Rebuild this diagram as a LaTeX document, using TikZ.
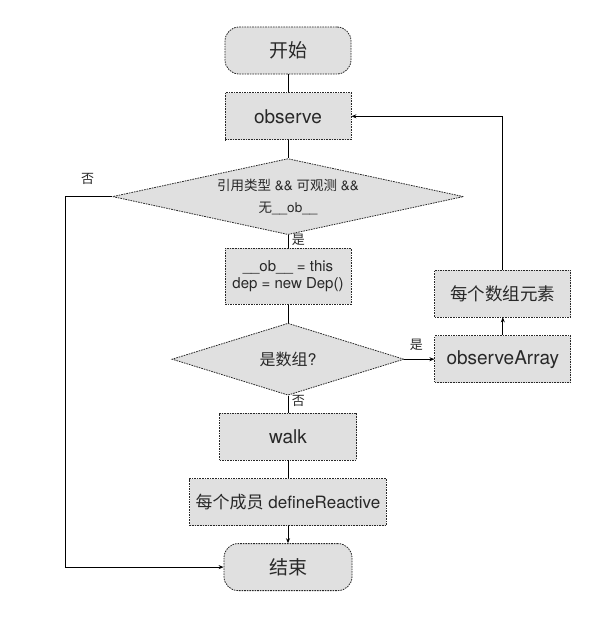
\documentclass[tikz,border=0pt]{standalone}
\usepackage{fontspec}
\setmainfont{TeX Gyre Heros}
\newfontfamily\cjk{Noto Sans CJK SC}
\usetikzlibrary{positioning,shapes.geometric,arrows.meta}
\definecolor{tausta}{RGB}{224,224,224}
\definecolor{reuna}{RGB}{40,40,40}
\definecolor{teksti}{RGB}{40,40,40}

\begin{document}
\begin{tikzpicture} [x=1pt, y=-1pt, node distance=18pt, >={Stealth[length=5pt,width=4pt]},
                    line width=0.9pt,
                    prosessi/.style={rectangle,draw=reuna,fill=tausta,line width=0.8pt,
                      dash pattern=on 1.6pt off 1pt,minimum width=126pt,minimum height=47pt,
                      inner sep=6pt,text=teksti,font=\fontsize{19}{22}\selectfont},
                    paate/.style={prosessi,rounded corners=14pt},
                    paatos/.style={diamond,draw=reuna,fill=tausta,line width=0.8pt,
                      dash pattern=on 1.6pt off 1pt,inner sep=1pt,text=teksti,align=center},
                    merkki/.style={text=teksti,font=\cjk\fontsize{13}{15}\selectfont}]

\useasboundingbox (0,0) rectangle (606,618);

\node[paate] (alku) at (288,50.5) {\cjk 开始};
\node[prosessi] (havainto) [below=of alku] {observe};
\node[paatos, minimum width=351pt, minimum height=76pt, aspect=4.6,
      font=\fontsize{13.5}{22}\selectfont] (ehto1) [below=of havainto]
      {{\cjk 引用类型} \&\& {\cjk 可观测} \&\&\\{\cjk 无}\_\_ob\_\_};
\node[prosessi, minimum height=56pt, align=center, font=\fontsize{15}{17}\selectfont]
      (alusta) [below=13pt of ehto1] {\_\_ob\_\_ = this\\dep = new Dep()};
\node[paatos, minimum width=232pt, minimum height=72pt, aspect=3.2,
      font=\fontsize{16}{19}\selectfont] (ehto2) [below=of alusta] {{\cjk 是数组}?};
\node[prosessi, minimum width=136pt] (taulukko) [right=30pt of ehto2] {observeArray};
\node[prosessi, minimum width=136pt, font=\cjk\fontsize{17.5}{21}\selectfont]
      (alkiot) [above=of taulukko] {每个数组元素};
\node[prosessi, minimum width=137pt] (kulku) [below=17pt of ehto2] {walk};
\node[prosessi, font=\fontsize{17}{20}\selectfont] (jasenet) [below=of kulku]
      {{\cjk 每个成员} defineReactive};
\node[paate, minimum width=128pt] (loppu) [below=17pt of jasenet] {\cjk 结束};
\coordinate (ohitus) at (65,0);

\draw (alku) -- (havainto);
\draw (havainto) -- (ehto1);
\draw (ehto1) -- node[merkki, right, pos=0.35] {是} (alusta);
\draw (alusta) -- (ehto2);
\draw[->] (ehto2) -- node[merkki, above=5pt, pos=0.4] {是} (taulukko);
\draw (ehto2) -- node[merkki, right, pos=0.3] {否} (kulku);
\draw (kulku) -- (jasenet);
\draw[->] (jasenet) -- (loppu);
\draw[->] (taulukko) -- (alkiot);
\draw[->] (alkiot) |- (havainto);
\draw[->] (ehto1.west) -- node[merkki, above=8pt, pos=0.52] {否} (ehto1.west -| ohitus)
      |- (loppu.west);
\end{tikzpicture}
\end{document}
